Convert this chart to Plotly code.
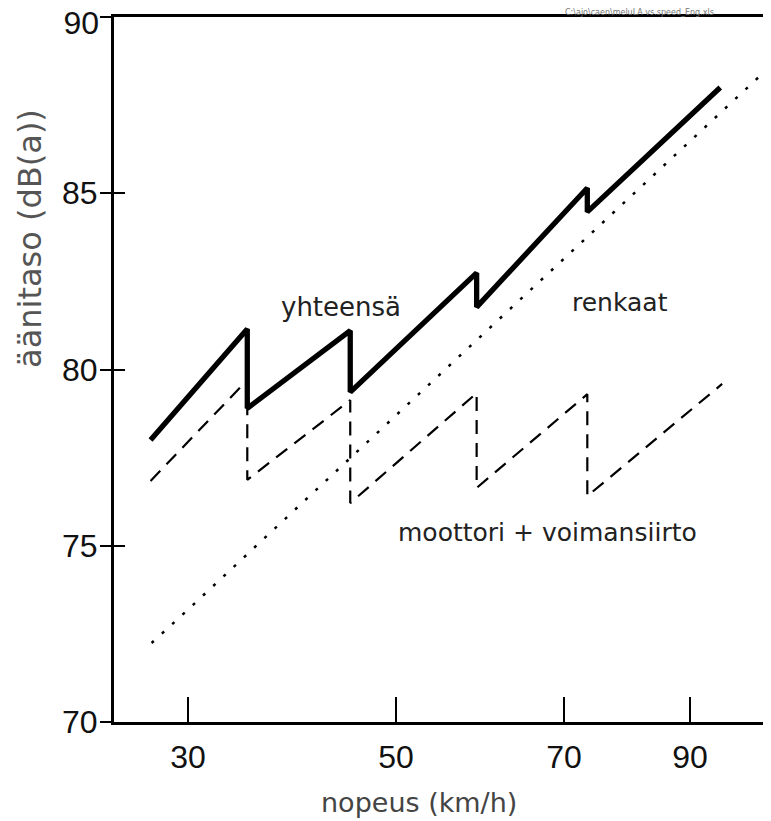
import numpy as np
import plotly.graph_objects as go

# ---- data (speed in km/h, level in dB(A)) ----
x_tick_labels = ["30", "50", "70", "90"]
x_tick_speeds = [30, 50, 70, 90]
y_ticks = [70, 75, 80, 85, 90]
y_tick_labels = ["70", "75", "80", "85", "90"]

total_speed = [26.4, 35.7, 35.7, 45.6, 45.6, 59.6, 59.6, 73.7, 73.7, 94.8]
total_level = [78.0, 81.15, 78.9, 81.1, 79.36, 82.74, 81.77, 85.15, 84.47, 88.0]

engine_speed = [26.4, 35.7, 35.7, 45.6, 45.6, 59.6, 59.6, 73.7, 73.7, 95.1]
engine_level = [76.84, 79.7, 76.87, 79.13, 76.21, 79.33, 76.64, 79.3, 76.41, 79.59]

tyre_speed = [26.5, 30, 50, 70, 90, 101.6]
tyre_level = [72.24, 73.19, 78.70, 83.15, 86.48, 88.41]

# ---- the drawn x axis is not uniform: position of each labelled speed ----
axis_speeds = [20, 30, 50, 70, 90, 110]
axis_pos = [84, 188, 396, 564, 690, 816]


def pos(v):
    return np.interp(v, axis_speeds, axis_pos)


fig = go.Figure()
fig.add_trace(go.Scatter(x=pos(tyre_speed), y=tyre_level, mode="lines",
                         line=dict(color="black", width=2.5, dash="3px,11px"),
                         hoverinfo="skip"))
fig.add_trace(go.Scatter(x=pos(engine_speed), y=engine_level, mode="lines",
                         line=dict(color="black", width=2.2, dash="14px,9px"),
                         hoverinfo="skip"))
fig.add_trace(go.Scatter(x=pos(total_speed), y=total_level, mode="lines",
                         line=dict(color="black", width=5.3), hoverinfo="skip"))
fig.add_trace(go.Scatter(x=[], y=[], yaxis="y2", showlegend=False))
fig.add_trace(go.Scatter(x=[], y=[], yaxis="y3", showlegend=False))

tickfont = dict(family="Liberation Sans", size=32, color="#111")

fig.update_layout(
    width=763, height=813,
    margin=dict(l=106, r=0, t=9, b=99),
    plot_bgcolor="white", paper_bgcolor="white",
    showlegend=False,
    font=dict(family="DejaVu Sans"),
    xaxis=dict(range=[114, 771], tickvals=pos(x_tick_speeds), ticktext=x_tick_labels,
               ticks="inside", ticklen=25, tickwidth=2, tickcolor="black",
               showline=True, linewidth=3, linecolor="black", mirror=True,
               showgrid=False, zeroline=False, tickfont=tickfont,
               ticklabelstandoff=5, automargin=False),
    yaxis=dict(range=[70, 90], tickvals=y_ticks, ticktext=y_tick_labels[:-1] + [""],
               ticks="outside", ticklen=11, tickwidth=2, tickcolor="black",
               showline=True, linewidth=3, linecolor="black",
               showgrid=False, zeroline=False, tickfont=tickfont,
               ticklabelstandoff=-4, automargin=False, ticklabeloverflow="allow"),
    yaxis2=dict(range=[70, 90], tickvals=y_ticks, overlaying="y", side="left",
                ticks="inside", ticklen=11, tickwidth=2, tickcolor="black",
                showticklabels=False, showline=False, showgrid=False, zeroline=False,
                automargin=False),
    yaxis3=dict(range=[70, 90], tickvals=y_ticks[-1:], ticktext=y_tick_labels[-1:],
                overlaying="y", side="left", ticks="", showline=False,
                showgrid=False, zeroline=False, tickfont=tickfont,
                ticklabelstandoff=14, ticklabelshift=6, automargin=False,
                ticklabeloverflow="allow"),
)

ann_font = dict(family="DejaVu Sans", size=26, color="#222")
fig.add_annotation(x=341, y=81.77, text="yhteensä", showarrow=False, font=ann_font)
fig.add_annotation(x=620, y=81.89, text="renkaat", showarrow=False,
                   font=dict(family="DejaVu Sans", size=25, color="#222"))
fig.add_annotation(x=547, y=75.39, text="moottori + voimansiirto", showarrow=False,
                   font=dict(family="DejaVu Sans", size=25, color="#222"))

fig.add_annotation(xref="paper", yref="paper", x=0.464, y=-0.1135,
                   xanchor="center", yanchor="middle", text="nopeus (km/h)",
                   showarrow=False, font=dict(family="DejaVu Sans", size=27, color="#444"))
fig.add_annotation(xref="paper", yref="paper", x=-0.127, y=0.686,
                   xanchor="center", yanchor="middle", text="äänitaso (dB(a))",
                   textangle=-90, showarrow=False,
                   font=dict(family="DejaVu Sans", size=32, color="#555"))
fig.add_annotation(xref="paper", yref="paper", x=0.80, y=1.0, yshift=5,
                   xanchor="center", yanchor="middle",
                   text="C:\\ajo\\caen\\meluLA vs.speed_Eng.xls", showarrow=False,
                   font=dict(family="DejaVu Sans", size=8, color="#777"))

fig.write_html("out.html")
